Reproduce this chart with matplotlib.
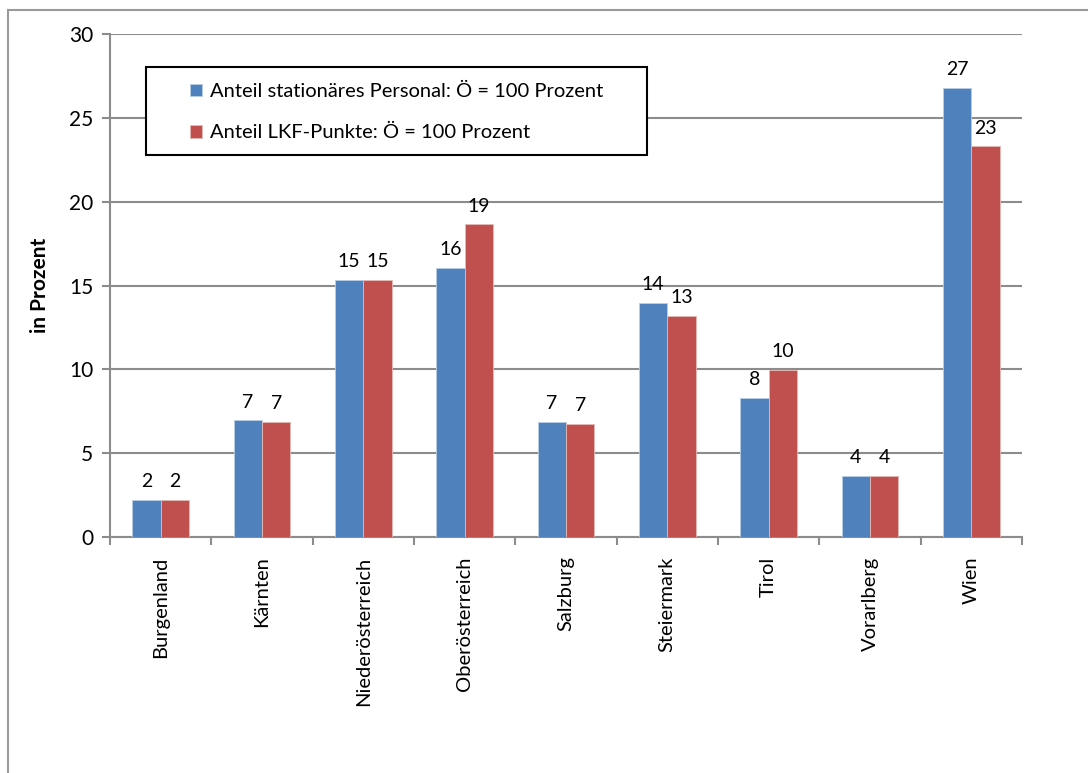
import matplotlib
matplotlib.use("Agg")
import matplotlib.pyplot as plt
from matplotlib.patches import Rectangle
import numpy as np

plt.rcParams["font.family"] = ["Lato", "DejaVu Sans"]

regions = ["Burgenland", "Kärnten", "Niederösterreich", "Oberösterreich",
           "Salzburg", "Steiermark", "Tirol", "Vorarlberg", "Wien"]
personal = [2.2, 6.95, 15.35, 16.05, 6.85, 13.95, 8.3, 3.65, 26.8]
lkf = [2.2, 6.85, 15.35, 18.65, 6.75, 13.2, 9.95, 3.65, 23.3]
series_names = ["Anteil stationäres Personal: Ö = 100 Prozent",
                "Anteil LKF-Punkte: Ö = 100 Prozent"]

BLUE = "#4F81BD"
RED = "#C0504D"
GRID = "#8c8c8c"

fig = plt.figure(figsize=(10.88, 7.73), dpi=100)
ax = fig.add_axes([110 / 1088, 1 - 537 / 773, 912 / 1088, 503 / 773])

# outer chart frame (runs off the right/bottom edge like the reference)
fig.patches.append(Rectangle((8 / 1088, -0.2), 1.2, 0.2 + 1 - 10 / 773,
                             transform=fig.transFigure, fill=False,
                             edgecolor="#9a9a9a", linewidth=1.5))

x = np.arange(len(regions))
w = 0.28
b1 = ax.bar(x - w / 2, personal, w, color=BLUE, edgecolor="#b9cde5",
            linewidth=0.6, label=series_names[0], zorder=3)
b2 = ax.bar(x + w / 2, lkf, w, color=RED, edgecolor="#e6b9b8",
            linewidth=0.6, label=series_names[1], zorder=3)

for bars, vals in ((b1, personal), (b2, lkf)):
    for rect, v in zip(bars, vals):
        ax.annotate(f"{round(v):d}", (rect.get_x() + rect.get_width() / 2, v),
                    xytext=(0, 7), textcoords="offset points",
                    ha="center", va="bottom", fontsize=14)

ax.set_xlim(-0.5, len(regions) - 0.5)
ax.set_ylim(0, 30)
ax.set_yticks(range(0, 31, 5))
ax.yaxis.grid(True, color=GRID, linewidth=1.5, zorder=0)
ax.set_axisbelow(True)

ax.set_xticks(x)
ax.set_xticklabels(regions, rotation=90, fontsize=14.5)
ax.set_xticks(np.arange(-0.5, len(regions), 1), minor=True)
ax.tick_params(axis="x", which="major", length=0, pad=14)
ax.tick_params(axis="x", which="minor", length=6, width=1.5, color=GRID)
ax.tick_params(axis="y", length=6, width=1.5, color=GRID, labelsize=15, pad=6)

for side in ("top", "right"):
    ax.spines[side].set_visible(False)
for side in ("left", "bottom"):
    ax.spines[side].set_color(GRID)
    ax.spines[side].set_linewidth(1.5)

ax.set_ylabel("in Prozent", fontsize=15, fontweight="bold", labelpad=14)

# legend box drawn separately so its padding matches the reference
ax.add_patch(Rectangle((36 / 912, 1 - 121 / 503), 501 / 912, 88 / 503,
                       transform=ax.transAxes, fill=True, facecolor="white",
                       edgecolor="black", linewidth=1.5, zorder=5))
leg = ax.legend(loc="upper left", bbox_to_anchor=(80 / 912, 1 - 49 / 503),
                fontsize=14.5, frameon=False,
                handlelength=0.6, handleheight=0.6, handletextpad=0.4,
                labelspacing=1.2, borderpad=0, borderaxespad=0)
leg.set_zorder(6)

fig.savefig("out.png", dpi=100)
